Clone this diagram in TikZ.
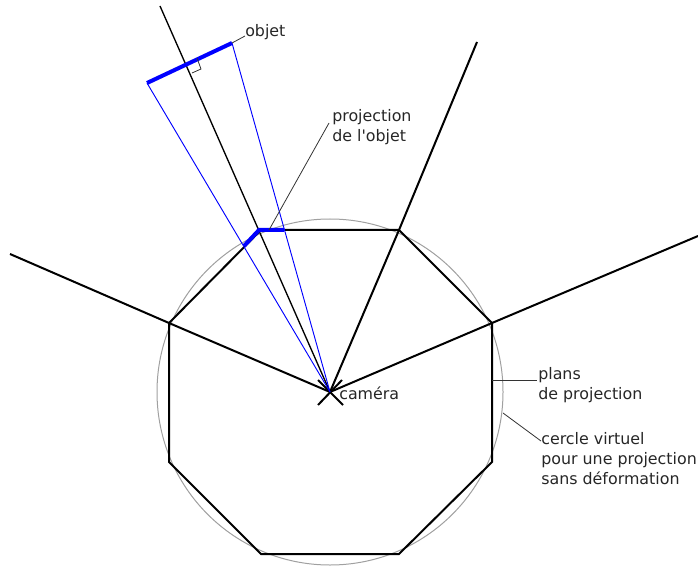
\documentclass[tikz,border=0pt]{standalone}
\usepackage{fontspec}
\setmainfont{DejaVu Sans}
\usepackage{tikz}
\definecolor{rayblue}{HTML}{0000FF}
\definecolor{circlegray}{HTML}{A0A0A0}

\begin{document}
\begin{tikzpicture}[
    x=0.75pt,y=-0.75pt,
    every node/.style={font=\fontsize{11.9}{15}\selectfont,align=left,inner sep=0pt,text=black!85},
    plane/.style={black,line width=1.5pt},
    axis/.style={black,line width=1pt},
    ray/.style={rayblue,line width=0.7pt},
    seen/.style={rayblue,line width=3pt},
    leader/.style={black!80,line width=0.6pt}
]
\useasboundingbox (0,0) rectangle (698,566);
% octagon corners and camera
\coordinate (cam) at (330,392);
\coordinate (a) at (261,230);
\coordinate (b) at (399,230);
\coordinate (c) at (492,323);
\coordinate (d) at (492,462);
\coordinate (e) at (399,554);
\coordinate (f) at (261,554);
\coordinate (g) at (169,462);
\coordinate (h) at (169,323);
% free ends
\coordinate (farleft) at (10,254);
\coordinate (farup) at (477,42);
\coordinate (farright) at (698,236);
\coordinate (faraxis) at (160,6);
\coordinate (obja) at (147,83);
\coordinate (objb) at (232,43);
\coordinate (proja) at (244,246);
\coordinate (projb) at (259,230);
\coordinate (projc) at (284,230);
\coordinate (camnw) at (318,380);
\coordinate (camne) at (342,380);
\coordinate (camsw) at (318,405);
\coordinate (camse) at (343,405);
\coordinate (planmark) at (492,380);
\coordinate (plantip) at (537,380);
\coordinate (circmark) at (503,413);
\coordinate (circtip) at (541,441);
\coordinate (projmark) at (269,230);
\coordinate (projtip) at (329,123);
\coordinate (objtip) at (245,36);
\coordinate (mkaa) at (197,58);
\coordinate (mkbb) at (201,69);
\coordinate (mkcc) at (192,73);
% labels
\node[anchor=base west] (objet) at (245,37) {objet};
\node[anchor=base west] (projlabel) at (332,142) {projection\\de l\textquotesingle objet};
\node[anchor=base west] (camera) at (339,399) {caméra};
\node[anchor=base west] (plans) at (538,399) {plans\\de projection};
\node[anchor=base west] (cercle) at (541,484) {cercle virtuel\\pour une projection\\sans déformation};

\draw[circlegray,line width=0.75pt] (cam) circle (173);
\draw[plane] (a) -- (b) -- (c) -- (d) -- (e) -- (f) -- (g) -- (h) -- cycle;
\draw[plane] (cam) -- (h) -- (farleft);
\draw[plane] (cam) -- (b) -- (farup);
\draw[plane] (cam) -- (c) -- (farright);
\draw[axis] (cam) -- (faraxis);
\draw[plane] (camnw) -- (camse);
\draw[plane] (camne) -- (camsw);
\draw[ray] (cam) -- (obja);
\draw[ray] (cam) -- (objb);
\draw[seen] (obja) -- (objb);
\draw[seen] (proja) -- (projb) -- (projc);
\draw[leader] (mkaa) -- (mkbb) -- (mkcc);
\draw[leader] (objb) -- (objtip);
\draw[leader] (projmark) -- (projtip);
\draw[leader] (planmark) -- (plantip);
\draw[leader] (circmark) -- (circtip);
\end{tikzpicture}
\end{document}
